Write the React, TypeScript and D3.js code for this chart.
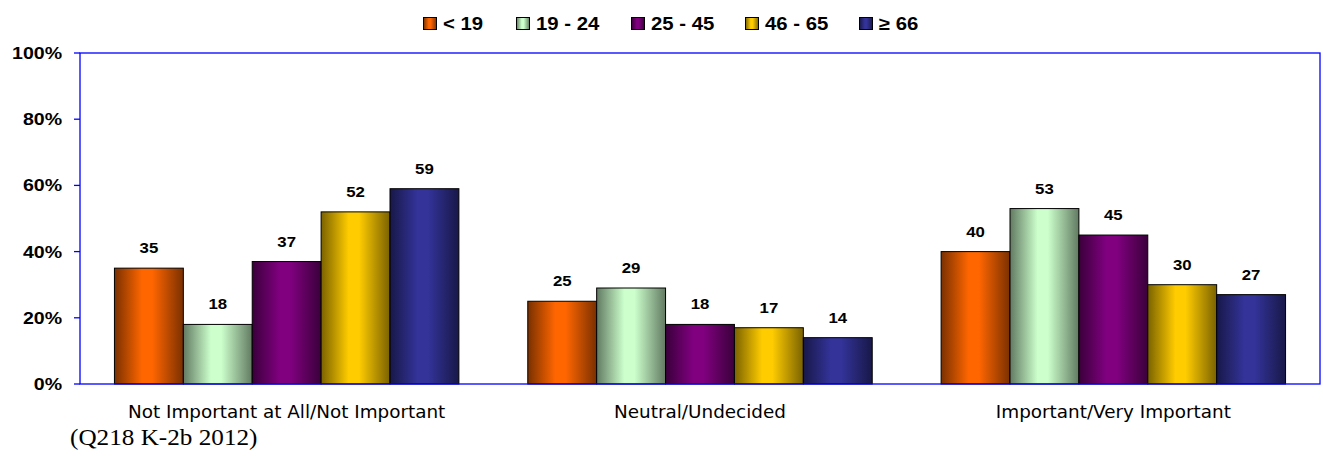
import React from "react";
import * as d3 from "d3";

const categories = ["Not Important at All/Not Important", "Neutral/Undecided", "Important/Very Important"];
const seriesNames = ["< 19", "19 - 24", "25 - 45", "46 - 65", "≥ 66"];
const lt19 = [35, 25, 40];
const s19to24 = [18, 29, 53];
const s25to45 = [37, 18, 45];
const s46to65 = [52, 17, 30];
const ge66 = [59, 14, 27];
const seriesValues = [lt19, s19to24, s25to45, s46to65, ge66];
const yTicks = [0, 20, 40, 60, 80, 100];
const footnote = "(Q218 K-2b 2012)";

const mainColors = ["#FF6600", "#CCFFCC", "#800080", "#FFCC00", "#333399"];
const darkColors = ["#7A3000", "#627A62", "#3A003A", "#7A6200", "#181848"];

function SText(props: {
  x: number; y: number; sx: number; anchor?: string; size: number; family: string; weight?: string; children: any;
}) {
  const { x, y, sx, anchor = "start", size, family, weight = "normal", children } = props;
  return (
    <g transform={`translate(${x},${y}) scale(${sx},1)`}>
      <text x={0} y={0} textAnchor={anchor} fontFamily={family} fontWeight={weight} fontSize={size} fill="#000">
        {children}
      </text>
    </g>
  );
}

const ARIAL = "Liberation Sans, Arial, sans-serif";
const VERDANA = "DejaVu Sans, Verdana, sans-serif";
const TIMES = "Liberation Serif, Times New Roman, serif";

export default function App() {
  const W = 1323, H = 456;
  const left = 80, right = 1320, top = 53, bottom = 384;
  const x0 = d3.scaleBand<string>().domain(categories).range([left, right]).paddingInner(0).paddingOuter(0);
  const bw = x0.bandwidth();
  const inner = bw * (5 / 6);
  const x1 = d3.scaleBand<number>().domain(d3.range(5)).range([(bw - inner) / 2, (bw + inner) / 2]).padding(0);
  const y = d3.scaleLinear().domain([0, 100]).range([bottom, top]);
  const legendX = [423, 516, 631, 745, 859];

  return (
    <svg width={W} height={H} style={{ position: "absolute", left: 0, top: 0 }}>
      <defs>
        {mainColors.map((c, i) => (
          <linearGradient key={i} id={`g${i}`} x1="0" x2="1" y1="0" y2="0">
            <stop offset="0" stopColor={darkColors[i]} />
            <stop offset="0.4" stopColor={c} />
            <stop offset="0.55" stopColor={c} />
            <stop offset="1" stopColor={darkColors[i]} />
          </linearGradient>
        ))}
      </defs>
      <rect x={0} y={0} width={W} height={H} fill="#fff" />
      {/* legend */}
      {seriesNames.map((s, i) => (
        <g key={s}>
          <rect x={legendX[i] + 0.5} y={17.5} width={13} height={12} fill={`url(#g${i})`} stroke="#000" strokeWidth={1} />
          <SText x={legendX[i] + 20} y={30} sx={1.13} size={18} family={ARIAL} weight="bold">{s}</SText>
        </g>
      ))}
      {/* bars */}
      {categories.map((cat, ci) => (
        <g key={cat}>
          {seriesValues.map((vals, si) => {
            const bx = (x0(cat) as number) + (x1(si) as number);
            const by = y(vals[ci]);
            return (
              <g key={si}>
                <rect x={bx} y={by} width={x1.bandwidth()} height={bottom - by} fill={`url(#g${si})`} stroke="#000" strokeWidth={1} />
                <SText x={bx + x1.bandwidth() / 2} y={by - 15} sx={1.2} anchor="middle" size={14} family={ARIAL} weight="bold">{vals[ci]}</SText>
              </g>
            );
          })}
          <SText x={(x0(cat) as number) + bw / 2} y={418} sx={1.05} anchor="middle" size={17.5} family={VERDANA}>{cat}</SText>
        </g>
      ))}
      {/* plot border */}
      <rect x={left} y={top} width={right - left} height={bottom - top} fill="none" stroke="#0000FF" strokeWidth={1.3} />
      {yTicks.map((t) => (
        <g key={t}>
          <line x1={left - 6} x2={left} y1={y(t)} y2={y(t)} stroke="#0000FF" strokeWidth={1.3} />
          <SText x={62} y={y(t) + 6} sx={1.15} anchor="end" size={17} family={ARIAL} weight="bold">{`${t}%`}</SText>
        </g>
      ))}
      <SText x={70} y={445} sx={1.05} size={24} family={TIMES}>{footnote}</SText>
    </svg>
  );
}
